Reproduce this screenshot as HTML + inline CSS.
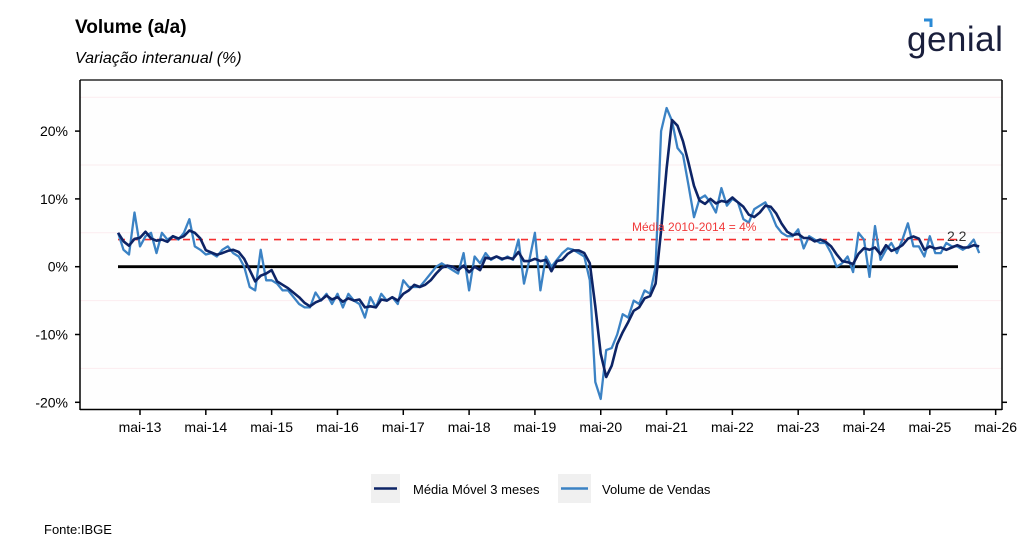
<!DOCTYPE html>
<html><head><meta charset="utf-8"><style>
html,body{margin:0;padding:0;background:#fff;width:1024px;height:559px;overflow:hidden;font-family:"Liberation Sans",Arial,sans-serif}
</style></head><body>
<svg id="s" width="1024" height="559" xmlns="http://www.w3.org/2000/svg" font-family="Liberation Sans, Arial, sans-serif">
<rect width="1024" height="559" fill="#fff"/>
<text x="75" y="33" font-size="19" font-weight="bold" fill="#000">Volume (a/a)</text>
<text x="75" y="63" font-size="16" font-style="italic" fill="#000">Variação interanual (%)</text>
<text x="907" y="51" font-size="35" fill="#1a1f3c" letter-spacing="0.5">genial</text>
<path d="M924 20 l7 0 l0 7" stroke="#2a8ad6" stroke-width="3" fill="none"/>
<rect x="80" y="80" width="922" height="329" fill="#fefefe"/>
<g stroke="#fbecef" stroke-width="1" id="grid"></g>
<g id="axes"></g>
<g id="series"></g>
<text x="632" y="231" font-size="12" fill="#f03a3a">Média 2010-2014 = 4%</text>
<text x="947" y="241" font-size="14" fill="#333">2.2</text>
<rect x="371" y="474" width="29" height="29" fill="#f0f0f0"/>
<line x1="374" y1="488.5" x2="397" y2="488.5" stroke="#0d2466" stroke-width="2.5"/>
<text x="413" y="494" font-size="13" fill="#000">Média Móvel 3 meses</text>
<rect x="558" y="474" width="33" height="29" fill="#f0f0f0"/>
<line x1="561" y1="488.5" x2="588" y2="488.5" stroke="#3b82c4" stroke-width="2.5"/>
<text x="602" y="494" font-size="13" fill="#000">Volume de Vendas</text>
<text x="44" y="534" font-size="13" fill="#000">Fonte:IBGE</text>
</svg>
<script>
var NS="http://www.w3.org/2000/svg";
function el(p,t,a,txt){var e=document.createElementNS(NS,t);for(var k in a)e.setAttribute(k,a[k]);if(txt!=null)e.textContent=txt;document.getElementById(p).appendChild(e);return e;}
function Y(v){return 266.7-v*6.78;}
function X(i){return 140+(i-4)*5.485;}
[25,15,5,-5,-15].forEach(function(v){el("grid","line",{x1:80,x2:1002,y1:Y(v),y2:Y(v)});});
el("axes","line",{x1:80,y1:80,x2:80,y2:410,stroke:"#000","stroke-width":1.5});
el("axes","line",{x1:80,y1:80,x2:1002,y2:80,stroke:"#000","stroke-width":1.2});
el("axes","line",{x1:1002,y1:80,x2:1002,y2:410,stroke:"#000","stroke-width":1.5});
el("axes","line",{x1:80,y1:409.5,x2:1002,y2:409.5,stroke:"#000","stroke-width":1.5});
[20,10,0,-10,-20].forEach(function(v){
 el("axes","line",{x1:75,x2:80,y1:Y(v),y2:Y(v),stroke:"#000","stroke-width":1.5});
 el("axes","line",{x1:1002,x2:1007,y1:Y(v),y2:Y(v),stroke:"#000","stroke-width":1.5});
 el("axes","text",{x:68,y:Y(v)+5,"font-size":14,"text-anchor":"end",fill:"#000"},v+"%");
});
for(var k=0;k<14;k++){var x=140+k*65.82;
 el("axes","line",{x1:x,x2:x,y1:409,y2:415,stroke:"#000","stroke-width":1.5});
 el("axes","text",{x:x,y:432,"font-size":14,"text-anchor":"middle",fill:"#000"},"mai-"+(13+k));}
var raw=[5,2.5,1.8,8,3,4.5,5,2,5,4,4.5,4,
5,7,3,2.5,1.8,2,1.5,2.5,3,2,1.5,0,
-3,-3.5,2.5,-2,-2,-2.5,-3.5,-3.5,-4.5,-5.5,-6,-6,
-3.8,-5,-4,-5.5,-4,-6,-4,-5,-5.5,-7.5,-4.5,-6,
-4,-5,-4.5,-5.5,-2,-3,-3,-3,-2,-1,0,0.5,
0,-0.5,-1,2,-3.5,1.5,0.5,2,1,1.5,1,1.5,
1,4,-2.5,1,5,-3.5,1.5,0,1,2,2.7,2.5,
2,1.5,-2,-17,-19.5,-12.3,-12,-10,-7,-7.5,-5,-5.5,
-3.5,-4,0,20,23.4,21.5,17.5,16.5,12,7.3,10,10.5,
9.5,8,11.6,9,10,9.5,7,6.5,8.5,9,9.5,8,
6,5,4.5,4.5,5.5,2.7,4.5,4,3.5,3.5,2,0,
0.5,1.5,-0.8,5,4,-1.5,6,1,2.5,3.5,2,4,
6.4,3,3,1.5,4.5,2,2,3.5,3,3,2.5,3,4,2];
var ma=raw.map(function(v,i){var s=0,n=0;for(var j=Math.max(0,i-2);j<=i;j++){s+=raw[j];n++;}return s/n;});
function pts(a){return a.map(function(v,i){return X(i).toFixed(1)+","+Y(v).toFixed(1);}).join(" ");}
el("series","line",{x1:118,x2:958,y1:Y(0),y2:Y(0),stroke:"#000","stroke-width":2.8});
el("series","line",{x1:118,x2:958,y1:Y(4),y2:Y(4),stroke:"#f52f2f","stroke-width":1.6,"stroke-dasharray":"7,6"});
el("series","polyline",{points:pts(raw),fill:"none",stroke:"#3b82c4","stroke-width":2.3,"stroke-linejoin":"round"});
el("series","polyline",{points:pts(ma),fill:"none",stroke:"#0d2466","stroke-width":2.6,"stroke-linejoin":"round"});
</script>
</body></html>
